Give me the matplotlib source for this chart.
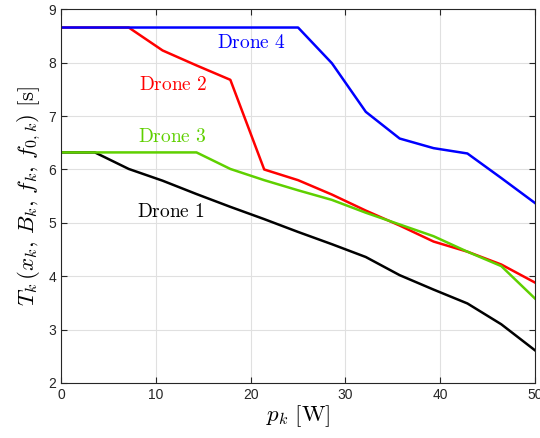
import matplotlib
matplotlib.use("Agg")
import matplotlib.pyplot as plt
import numpy as np

plt.rcParams['mathtext.fontset'] = 'cm'
plt.rcParams['font.family'] = ['Liberation Sans', 'DejaVu Sans']

# transmit power grid (W)
p = np.linspace(0, 50, 15)

# completion time per drone (s)
drone1 = [6.32, 6.32, 6.01, 5.79, 5.54, 5.30, 5.07, 4.83, 4.60, 4.36, 4.02, 3.75, 3.49, 3.10, 2.61]
drone2 = [8.66, 8.66, 8.66, 8.23, 7.95, 7.68, 6.00, 5.80, 5.53, 5.23, 4.95, 4.65, 4.46, 4.22, 3.88]
drone3 = [6.32, 6.32, 6.32, 6.32, 6.32, 6.01, 5.80, 5.61, 5.43, 5.19, 4.97, 4.75, 4.46, 4.19, 3.58]
drone4 = [8.66, 8.66, 8.66, 8.66, 8.66, 8.66, 8.66, 8.66, 7.99, 7.08, 6.58, 6.40, 6.30, 5.84, 5.37]

series = [drone1, drone2, drone3, drone4]
colors = ['black', 'red', '#5fd000', 'blue']
names = ['Drone 1', 'Drone 2', 'Drone 3', 'Drone 4']
label_pos = [(8.0, 5.21), (8.2, 7.58), (8.1, 6.61), (16.4, 8.37)]

fig = plt.figure(figsize=(5.4, 4.38), dpi=100)
ax = fig.add_axes([0.113, 0.1256, 0.878, 0.853])

for y, c in zip(series, colors):
    ax.plot(p, y, color=c, linewidth=1.8)

for name, c, (lx, ly) in zip(names, colors, label_pos):
    ax.text(lx, ly, r'$\mathrm{%s}$' % name.replace(' ', r'\ '), color=c,
            fontsize=14, ha='left', va='center')

ax.set_xlim(0, 50)
ax.set_ylim(2, 9)
ax.set_xticks(np.arange(0, 51, 10))
ax.set_yticks(np.arange(2, 10, 1))
ax.grid(True, color='0.88', linewidth=0.8)
ax.set_axisbelow(True)
ax.tick_params(direction='in', top=True, right=True, labelsize=10,
               colors='0.15', length=4)
for s in ax.spines.values():
    s.set_color('0.15')
    s.set_linewidth(0.8)

ax.set_xlabel(r'$p_k\ \mathrm{[W]}$', fontsize=16.5, labelpad=1)
ax.set_ylabel(r'$T_k\,(x_k,\,B_k,\,f_k,\,f_{0,k})\ \mathrm{[s]}$', fontsize=16.5, labelpad=4)

fig.savefig('out.png', dpi=100)
